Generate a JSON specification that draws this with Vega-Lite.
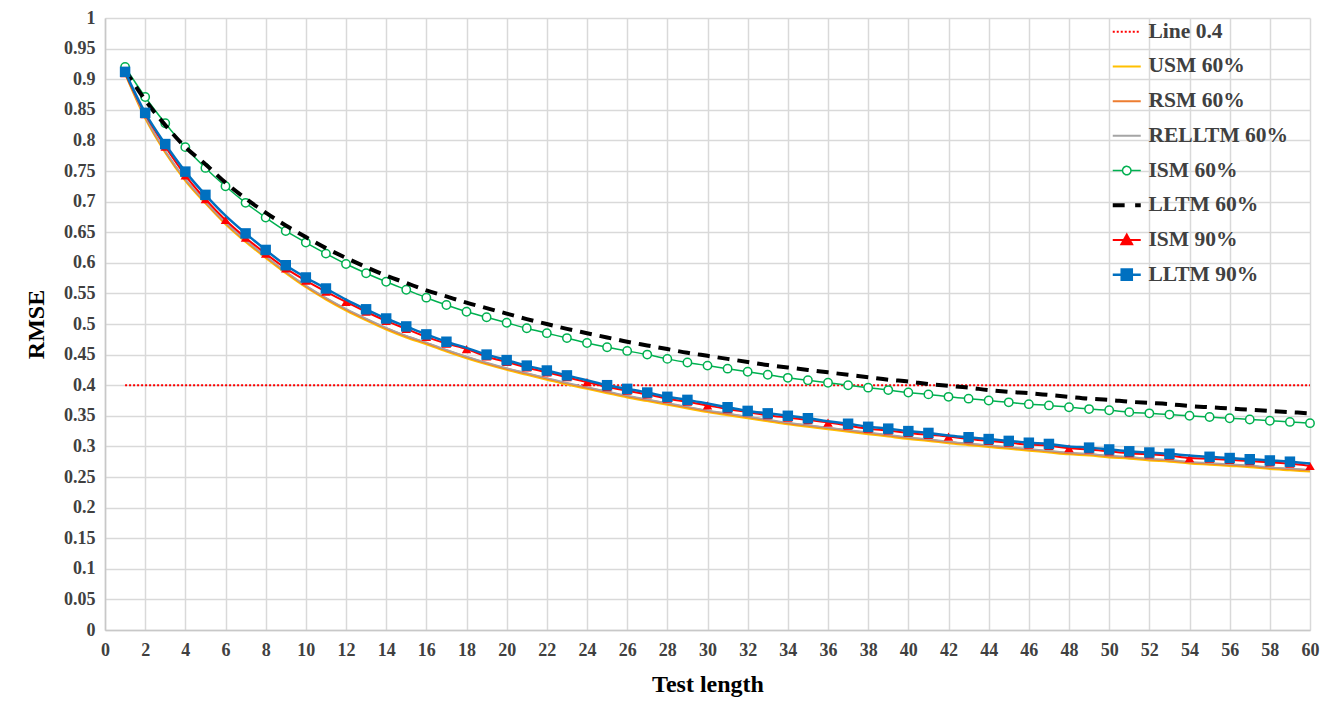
{
"$schema":"https://vega.github.io/schema/vega-lite/v6.json",
"width":1205,"height":612,
"autosize":{"type":"none"},
"padding":{"left":105,"top":18,"right":15,"bottom":85},
"background":"white",
"datasets":{
"ref":[{"x":1,"y":0.4,"series":"Line 0.4"},{"x":60,"y":0.4,"series":"Line 0.4"}],
"curves":[
{"x":1,"USM 60%":0.909,"RSM 60%":0.910,"RELLTM 60%":0.911,"ISM 60%":0.920,"LLTM 60%":0.915,"ISM 90%":0.910,"LLTM 90%":0.912},
{"x":2,"USM 60%":0.836,"RSM 60%":0.838,"RELLTM 60%":0.839,"ISM 60%":0.871,"LLTM 60%":0.866,"ISM 90%":0.843,"LLTM 90%":0.845},
{"x":3,"USM 60%":0.780,"RSM 60%":0.782,"RELLTM 60%":0.783,"ISM 60%":0.828,"LLTM 60%":0.825,"ISM 90%":0.790,"LLTM 90%":0.794},
{"x":4,"USM 60%":0.734,"RSM 60%":0.736,"RELLTM 60%":0.737,"ISM 60%":0.789,"LLTM 60%":0.789,"ISM 90%":0.743,"LLTM 90%":0.749},
{"x":5,"USM 60%":0.697,"RSM 60%":0.699,"RELLTM 60%":0.700,"ISM 60%":0.755,"LLTM 60%":0.761,"ISM 90%":0.704,"LLTM 90%":0.711},
{"x":6,"USM 60%":0.663,"RSM 60%":0.665,"RELLTM 60%":0.666,"ISM 60%":0.725,"LLTM 60%":0.731,"ISM 90%":0.670,"LLTM 90%":0.677},
{"x":7,"USM 60%":0.634,"RSM 60%":0.636,"RELLTM 60%":0.637,"ISM 60%":0.698,"LLTM 60%":0.705,"ISM 90%":0.641,"LLTM 90%":0.648},
{"x":8,"USM 60%":0.608,"RSM 60%":0.610,"RELLTM 60%":0.611,"ISM 60%":0.674,"LLTM 60%":0.682,"ISM 90%":0.615,"LLTM 90%":0.621},
{"x":9,"USM 60%":0.583,"RSM 60%":0.585,"RELLTM 60%":0.586,"ISM 60%":0.652,"LLTM 60%":0.661,"ISM 90%":0.591,"LLTM 90%":0.596},
{"x":10,"USM 60%":0.560,"RSM 60%":0.562,"RELLTM 60%":0.563,"ISM 60%":0.633,"LLTM 60%":0.642,"ISM 90%":0.571,"LLTM 90%":0.576},
{"x":11,"USM 60%":0.540,"RSM 60%":0.542,"RELLTM 60%":0.543,"ISM 60%":0.615,"LLTM 60%":0.624,"ISM 90%":0.553,"LLTM 90%":0.558},
{"x":12,"USM 60%":0.522,"RSM 60%":0.524,"RELLTM 60%":0.525,"ISM 60%":0.598,"LLTM 60%":0.608,"ISM 90%":0.536,"LLTM 90%":0.540},
{"x":13,"USM 60%":0.506,"RSM 60%":0.508,"RELLTM 60%":0.509,"ISM 60%":0.583,"LLTM 60%":0.593,"ISM 90%":0.520,"LLTM 90%":0.524},
{"x":14,"USM 60%":0.491,"RSM 60%":0.493,"RELLTM 60%":0.494,"ISM 60%":0.569,"LLTM 60%":0.579,"ISM 90%":0.505,"LLTM 90%":0.509},
{"x":15,"USM 60%":0.478,"RSM 60%":0.480,"RELLTM 60%":0.481,"ISM 60%":0.556,"LLTM 60%":0.567,"ISM 90%":0.492,"LLTM 90%":0.496},
{"x":16,"USM 60%":0.467,"RSM 60%":0.469,"RELLTM 60%":0.470,"ISM 60%":0.543,"LLTM 60%":0.555,"ISM 90%":0.479,"LLTM 90%":0.483},
{"x":17,"USM 60%":0.455,"RSM 60%":0.457,"RELLTM 60%":0.458,"ISM 60%":0.531,"LLTM 60%":0.545,"ISM 90%":0.468,"LLTM 90%":0.471},
{"x":18,"USM 60%":0.444,"RSM 60%":0.446,"RELLTM 60%":0.447,"ISM 60%":0.520,"LLTM 60%":0.535,"ISM 90%":0.459,"LLTM 90%":0.461},
{"x":19,"USM 60%":0.434,"RSM 60%":0.436,"RELLTM 60%":0.437,"ISM 60%":0.511,"LLTM 60%":0.526,"ISM 90%":0.447,"LLTM 90%":0.450},
{"x":20,"USM 60%":0.425,"RSM 60%":0.427,"RELLTM 60%":0.428,"ISM 60%":0.502,"LLTM 60%":0.517,"ISM 90%":0.438,"LLTM 90%":0.441},
{"x":21,"USM 60%":0.417,"RSM 60%":0.419,"RELLTM 60%":0.420,"ISM 60%":0.493,"LLTM 60%":0.508,"ISM 90%":0.429,"LLTM 90%":0.432},
{"x":22,"USM 60%":0.409,"RSM 60%":0.411,"RELLTM 60%":0.412,"ISM 60%":0.485,"LLTM 60%":0.500,"ISM 90%":0.421,"LLTM 90%":0.424},
{"x":23,"USM 60%":0.401,"RSM 60%":0.403,"RELLTM 60%":0.404,"ISM 60%":0.477,"LLTM 60%":0.492,"ISM 90%":0.413,"LLTM 90%":0.416},
{"x":24,"USM 60%":0.394,"RSM 60%":0.396,"RELLTM 60%":0.397,"ISM 60%":0.469,"LLTM 60%":0.485,"ISM 90%":0.405,"LLTM 90%":0.408},
{"x":25,"USM 60%":0.387,"RSM 60%":0.389,"RELLTM 60%":0.390,"ISM 60%":0.462,"LLTM 60%":0.478,"ISM 90%":0.397,"LLTM 90%":0.400},
{"x":26,"USM 60%":0.380,"RSM 60%":0.382,"RELLTM 60%":0.383,"ISM 60%":0.456,"LLTM 60%":0.471,"ISM 90%":0.391,"LLTM 90%":0.394},
{"x":27,"USM 60%":0.374,"RSM 60%":0.376,"RELLTM 60%":0.377,"ISM 60%":0.450,"LLTM 60%":0.465,"ISM 90%":0.385,"LLTM 90%":0.388},
{"x":28,"USM 60%":0.368,"RSM 60%":0.370,"RELLTM 60%":0.371,"ISM 60%":0.443,"LLTM 60%":0.459,"ISM 90%":0.378,"LLTM 90%":0.381},
{"x":29,"USM 60%":0.362,"RSM 60%":0.364,"RELLTM 60%":0.365,"ISM 60%":0.437,"LLTM 60%":0.453,"ISM 90%":0.373,"LLTM 90%":0.376},
{"x":30,"USM 60%":0.356,"RSM 60%":0.358,"RELLTM 60%":0.359,"ISM 60%":0.432,"LLTM 60%":0.448,"ISM 90%":0.367,"LLTM 90%":0.370},
{"x":31,"USM 60%":0.351,"RSM 60%":0.353,"RELLTM 60%":0.354,"ISM 60%":0.427,"LLTM 60%":0.443,"ISM 90%":0.361,"LLTM 90%":0.364},
{"x":32,"USM 60%":0.346,"RSM 60%":0.348,"RELLTM 60%":0.349,"ISM 60%":0.422,"LLTM 60%":0.438,"ISM 90%":0.356,"LLTM 90%":0.358},
{"x":33,"USM 60%":0.341,"RSM 60%":0.343,"RELLTM 60%":0.344,"ISM 60%":0.417,"LLTM 60%":0.433,"ISM 90%":0.351,"LLTM 90%":0.354},
{"x":34,"USM 60%":0.336,"RSM 60%":0.338,"RELLTM 60%":0.339,"ISM 60%":0.412,"LLTM 60%":0.429,"ISM 90%":0.347,"LLTM 90%":0.350},
{"x":35,"USM 60%":0.332,"RSM 60%":0.334,"RELLTM 60%":0.335,"ISM 60%":0.408,"LLTM 60%":0.425,"ISM 90%":0.343,"LLTM 90%":0.346},
{"x":36,"USM 60%":0.328,"RSM 60%":0.330,"RELLTM 60%":0.331,"ISM 60%":0.404,"LLTM 60%":0.421,"ISM 90%":0.339,"LLTM 90%":0.341},
{"x":37,"USM 60%":0.324,"RSM 60%":0.326,"RELLTM 60%":0.327,"ISM 60%":0.400,"LLTM 60%":0.417,"ISM 90%":0.334,"LLTM 90%":0.337},
{"x":38,"USM 60%":0.320,"RSM 60%":0.322,"RELLTM 60%":0.323,"ISM 60%":0.396,"LLTM 60%":0.413,"ISM 90%":0.329,"LLTM 90%":0.332},
{"x":39,"USM 60%":0.316,"RSM 60%":0.318,"RELLTM 60%":0.319,"ISM 60%":0.392,"LLTM 60%":0.409,"ISM 90%":0.326,"LLTM 90%":0.329},
{"x":40,"USM 60%":0.312,"RSM 60%":0.314,"RELLTM 60%":0.315,"ISM 60%":0.388,"LLTM 60%":0.406,"ISM 90%":0.322,"LLTM 90%":0.325},
{"x":41,"USM 60%":0.309,"RSM 60%":0.311,"RELLTM 60%":0.312,"ISM 60%":0.385,"LLTM 60%":0.402,"ISM 90%":0.319,"LLTM 90%":0.322},
{"x":42,"USM 60%":0.305,"RSM 60%":0.307,"RELLTM 60%":0.308,"ISM 60%":0.381,"LLTM 60%":0.399,"ISM 90%":0.316,"LLTM 90%":0.318},
{"x":43,"USM 60%":0.302,"RSM 60%":0.304,"RELLTM 60%":0.305,"ISM 60%":0.378,"LLTM 60%":0.396,"ISM 90%":0.312,"LLTM 90%":0.315},
{"x":44,"USM 60%":0.299,"RSM 60%":0.301,"RELLTM 60%":0.302,"ISM 60%":0.375,"LLTM 60%":0.392,"ISM 90%":0.309,"LLTM 90%":0.312},
{"x":45,"USM 60%":0.296,"RSM 60%":0.298,"RELLTM 60%":0.299,"ISM 60%":0.372,"LLTM 60%":0.389,"ISM 90%":0.306,"LLTM 90%":0.309},
{"x":46,"USM 60%":0.293,"RSM 60%":0.295,"RELLTM 60%":0.296,"ISM 60%":0.369,"LLTM 60%":0.387,"ISM 90%":0.303,"LLTM 90%":0.306},
{"x":47,"USM 60%":0.290,"RSM 60%":0.292,"RELLTM 60%":0.293,"ISM 60%":0.367,"LLTM 60%":0.384,"ISM 90%":0.301,"LLTM 90%":0.304},
{"x":48,"USM 60%":0.287,"RSM 60%":0.289,"RELLTM 60%":0.290,"ISM 60%":0.364,"LLTM 60%":0.381,"ISM 90%":0.297,"LLTM 90%":0.300},
{"x":49,"USM 60%":0.285,"RSM 60%":0.287,"RELLTM 60%":0.288,"ISM 60%":0.361,"LLTM 60%":0.378,"ISM 90%":0.295,"LLTM 90%":0.298},
{"x":50,"USM 60%":0.282,"RSM 60%":0.284,"RELLTM 60%":0.285,"ISM 60%":0.359,"LLTM 60%":0.376,"ISM 90%":0.292,"LLTM 90%":0.295},
{"x":51,"USM 60%":0.280,"RSM 60%":0.282,"RELLTM 60%":0.283,"ISM 60%":0.356,"LLTM 60%":0.373,"ISM 90%":0.289,"LLTM 90%":0.292},
{"x":52,"USM 60%":0.277,"RSM 60%":0.279,"RELLTM 60%":0.280,"ISM 60%":0.354,"LLTM 60%":0.371,"ISM 90%":0.287,"LLTM 90%":0.290},
{"x":53,"USM 60%":0.275,"RSM 60%":0.277,"RELLTM 60%":0.278,"ISM 60%":0.352,"LLTM 60%":0.369,"ISM 90%":0.285,"LLTM 90%":0.288},
{"x":54,"USM 60%":0.272,"RSM 60%":0.274,"RELLTM 60%":0.275,"ISM 60%":0.350,"LLTM 60%":0.366,"ISM 90%":0.281,"LLTM 90%":0.285},
{"x":55,"USM 60%":0.270,"RSM 60%":0.272,"RELLTM 60%":0.273,"ISM 60%":0.348,"LLTM 60%":0.364,"ISM 90%":0.280,"LLTM 90%":0.283},
{"x":56,"USM 60%":0.268,"RSM 60%":0.270,"RELLTM 60%":0.271,"ISM 60%":0.346,"LLTM 60%":0.362,"ISM 90%":0.278,"LLTM 90%":0.281},
{"x":57,"USM 60%":0.266,"RSM 60%":0.268,"RELLTM 60%":0.269,"ISM 60%":0.344,"LLTM 60%":0.360,"ISM 90%":0.276,"LLTM 90%":0.279},
{"x":58,"USM 60%":0.263,"RSM 60%":0.265,"RELLTM 60%":0.266,"ISM 60%":0.342,"LLTM 60%":0.358,"ISM 90%":0.274,"LLTM 90%":0.277},
{"x":59,"USM 60%":0.261,"RSM 60%":0.263,"RELLTM 60%":0.264,"ISM 60%":0.340,"LLTM 60%":0.356,"ISM 90%":0.272,"LLTM 90%":0.275},
{"x":60,"USM 60%":0.259,"RSM 60%":0.261,"RELLTM 60%":0.262,"ISM 60%":0.338,"LLTM 60%":0.354,"ISM 90%":0.268,"LLTM 90%":0.272}
]},
"config":{
"view":{"stroke":null},
"axis":{"labelFont":"Liberation Serif","labelFontWeight":"bold","labelFontSize":18,"labelColor":"#404040","titleFont":"Liberation Serif","titleFontWeight":"bold","titleFontSize":24,"titleColor":"#000000","gridColor":"#d9d9d9","gridWidth":1.5,"domainColor":"#c8c8c8","domainWidth":1.5,"ticks":false}
},
"encoding":{
"x":{"field":"x","type":"quantitative","scale":{"domain":[0,60],"nice":false,"zero":false},"axis":{"title":"Test length","values":[0,2,4,6,8,10,12,14,16,18,20,22,24,26,28,30,32,34,36,38,40,42,44,46,48,50,52,54,56,58,60],"labelPadding":11,"titlePadding":13,"labelFlush":false}},
"y":{"field":"y","type":"quantitative","scale":{"domain":[0,1],"nice":false},"axis":{"title":"RMSE","values":[0,0.05,0.1,0.15,0.2,0.25,0.3,0.35,0.4,0.45,0.5,0.55,0.6,0.65,0.7,0.75,0.8,0.85,0.9,0.95,1],"format":"~g","labelPadding":10,"titlePadding":15}},
"color":{"field":"series","type":"nominal","scale":{"domain":["Line 0.4","USM 60%","RSM 60%","RELLTM 60%","ISM 60%","LLTM 60%","ISM 90%","LLTM 90%"],"range":["#FF0000","#FFC000","#ED7D31","#A5A5A5","#00B050","#000000","#FF0000","#0070C0"]},
"legend":{"orient":"none","legendX":1011,"legendY":3,"title":null,"padding":0,"symbolSize":784,"rowPadding":11.7,"labelOffset":11,"labelFont":"Liberation Serif","labelFontWeight":"bold","labelFontSize":21.5,"labelColor":"#404040","symbolType":"stroke",
"encode":{"symbols":{"update":{
"shape":{"signal":"datum.value==='ISM 60%'?'M-1,0H-0.3M0.3,0H1M0.3,0A0.3,0.3,0,1,1,-0.3,0A0.3,0.3,0,1,1,0.3,0':datum.value==='ISM 90%'?'M-1,0H1M0,-0.38L0.38,0.3L-0.38,0.3Z':datum.value==='LLTM 90%'?'M-1,0H1M-0.36,-0.36H0.36V0.36H-0.36Z':datum.value==='LLTM 60%'?'M-1,0H-0.15M0.6,0H1':'M-1,0H1'"},
"fill":{"signal":"datum.value==='ISM 60%'?'#ffffff':datum.value==='ISM 90%'?'#FF0000':datum.value==='LLTM 90%'?'#0070C0':'transparent'"},
"strokeDash":{"signal":"datum.value==='Line 0.4'?[2,2]:[1,0]"},
"strokeWidth":{"signal":"datum.value==='LLTM 60%'?4:datum.value==='LLTM 90%'?2.5:datum.value==='ISM 60%'?1.5:2"},
"opacity":{"value":1}
}}}}}
},
"layer":[
{"data":{"name":"ref"},"mark":{"type":"line","strokeWidth":2,"strokeDash":[2,2]}},
{"data":{"name":"curves"},"transform":[{"fold":["USM 60%"],"as":["series","y"]}],"mark":{"type":"line","strokeWidth":2,"interpolate":"monotone"}},
{"data":{"name":"curves"},"transform":[{"fold":["RSM 60%"],"as":["series","y"]}],"mark":{"type":"line","strokeWidth":2,"interpolate":"monotone"}},
{"data":{"name":"curves"},"transform":[{"fold":["RELLTM 60%"],"as":["series","y"]}],"mark":{"type":"line","strokeWidth":1.5,"interpolate":"monotone"}},
{"data":{"name":"curves"},"transform":[{"fold":["ISM 60%"],"as":["series","y"]}],"mark":{"type":"line","strokeWidth":1.5,"interpolate":"monotone"}},
{"data":{"name":"curves"},"transform":[{"fold":["ISM 60%"],"as":["series","y"]}],"mark":{"type":"point","shape":"circle","size":70,"opacity":1,"filled":true},"encoding":{"color":{"value":"#00B050"},"fill":{"value":"#ffffff"},"stroke":{"value":"#00B050"},"strokeWidth":{"value":1.5}}},
{"data":{"name":"curves"},"transform":[{"fold":["LLTM 60%"],"as":["series","y"]}],"mark":{"type":"line","strokeWidth":4,"strokeDash":[12,8],"interpolate":"monotone"}},
{"data":{"name":"curves"},"transform":[{"fold":["ISM 90%"],"as":["series","y"]}],"mark":{"type":"line","strokeWidth":2,"interpolate":"monotone"}},
{"data":{"name":"curves"},"transform":[{"fold":["ISM 90%"],"as":["series","y"]}],"mark":{"type":"point","shape":"triangle-up","size":90,"opacity":1,"filled":true},"encoding":{"color":{"value":"#FF0000"}}},
{"data":{"name":"curves"},"transform":[{"fold":["LLTM 90%"],"as":["series","y"]}],"mark":{"type":"line","strokeWidth":2.5,"interpolate":"monotone"}},
{"data":{"name":"curves"},"transform":[{"fold":["LLTM 90%"],"as":["series","y"]},{"filter":"datum.x % 6 != 0"}],"mark":{"type":"point","shape":"square","size":110,"opacity":1,"filled":true},"encoding":{"color":{"value":"#0070C0"}}}
]
}
